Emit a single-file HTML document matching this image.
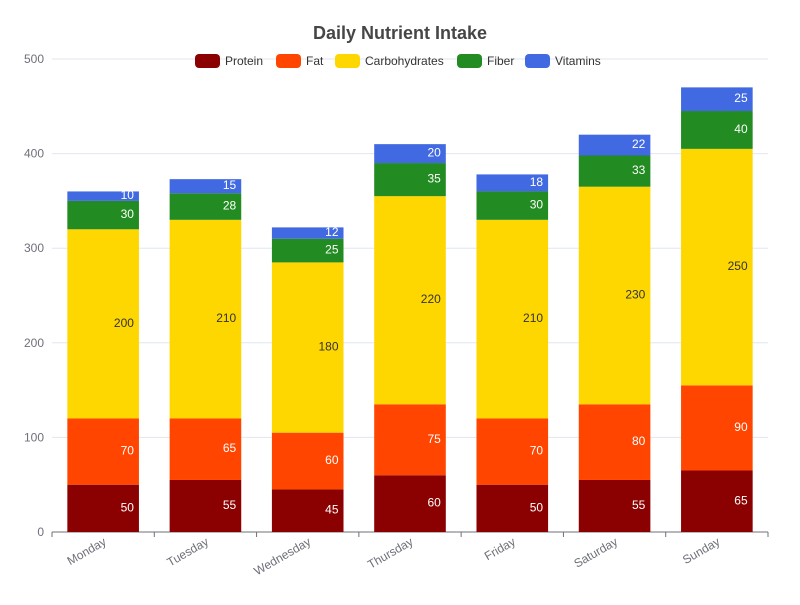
<!DOCTYPE html>
<html><head><meta charset="utf-8"><style>
body{margin:0;background:#fff;font-family:"Liberation Sans","Microsoft YaHei",sans-serif}
svg text{font-family:"Liberation Sans",sans-serif}
</style></head><body>
<svg id="chart" width="800" height="600">
<text x="400" y="39" text-anchor="middle" font-size="18" font-weight="bold" fill="#464646">Daily Nutrient Intake</text>
<g id="grid"></g>
<g id="bars"></g>
<g id="axes"></g>
<g id="legend"></g>
</svg>
<script>
const categories=["Monday","Tuesday","Wednesday","Thursday","Friday","Saturday","Sunday"];
const seriesNames=["Protein","Fat","Carbohydrates","Fiber","Vitamins"];
const protein=[50,55,45,60,50,55,65];
const fat=[70,65,60,75,70,80,90];
const carbs=[200,210,180,220,210,230,250];
const fiber=[30,28,25,35,30,33,40];
const vitamins=[10,15,12,20,18,22,25];
const yTicks=[0,100,200,300,400,500];
const colors=["#8b0000","#ff4500","#ffd700","#228b22","#4169e1"];
const labelColors=["#fff","#fff","#333","#fff","#fff"];
const series=[protein,fat,carbs,fiber,vitamins];
const NS="http://www.w3.org/2000/svg";
const L=52,R=768,T=59,B=532,yMax=500;
const y=v=>B-(v/yMax)*(B-T);
const band=(R-L)/categories.length;
const xc=i=>L+band*(i+0.5);
function mk(tag,attrs,parent,text){const e=document.createElementNS(NS,tag);for(const k in attrs)e.setAttribute(k,attrs[k]);if(text!==undefined)e.textContent=text;parent.appendChild(e);return e;}
const grid=document.getElementById('grid'),bars=document.getElementById('bars'),axes=document.getElementById('axes'),legend=document.getElementById('legend');
yTicks.forEach(t=>{
  const l=mk('line',{x1:L,x2:R,y1:y(t),y2:y(t),stroke:t===0?'#6e7079':'#e0e6f1'},grid);
  
  
  const tx=mk('text',{x:44,y:y(t)+4,'text-anchor':'end','font-size':12,fill:'#6e7079'},axes,String(t));
  
  
});
for(let i=0;i<=categories.length;i++){
  const tk=mk('line',{x1:L+band*i,x2:L+band*i,y1:B,y2:B+5,stroke:'#6e7079'},axes);
  
  
}
categories.forEach((c,i)=>{
  const tx=mk('text',{transform:`translate(${xc(i)+4},${B+12}) rotate(-30)`,'text-anchor':'end','font-size':12,fill:'#6e7079'},axes,c);
  
  
  let acc=0;const bw=band*0.7;
  series.forEach((s,k)=>{
    const v=s[i];const y0=y(acc),y1=y(acc+v);acc+=v;
    const r=mk('rect',{x:xc(i)-bw/2,y:y1,width:bw,height:y0-y1,fill:colors[k]},bars);
    
    
    const lb=mk('text',{x:xc(i)+bw/2-5,y:(y0+y1)/2+3,'text-anchor':'end','font-size':12,fill:labelColors[k]},bars,String(v));
    
    
  });
});
const legX=[195,276,335,457,525];
seriesNames.forEach((n,k)=>{
  const g=mk('g',{},legend);
  
  
  mk('rect',{x:legX[k],y:54,width:25,height:14,rx:4,fill:colors[k]},g);
  mk('text',{x:legX[k]+30,y:65,'font-size':12,fill:'#333'},g,n);
});
</script>
</body></html>
